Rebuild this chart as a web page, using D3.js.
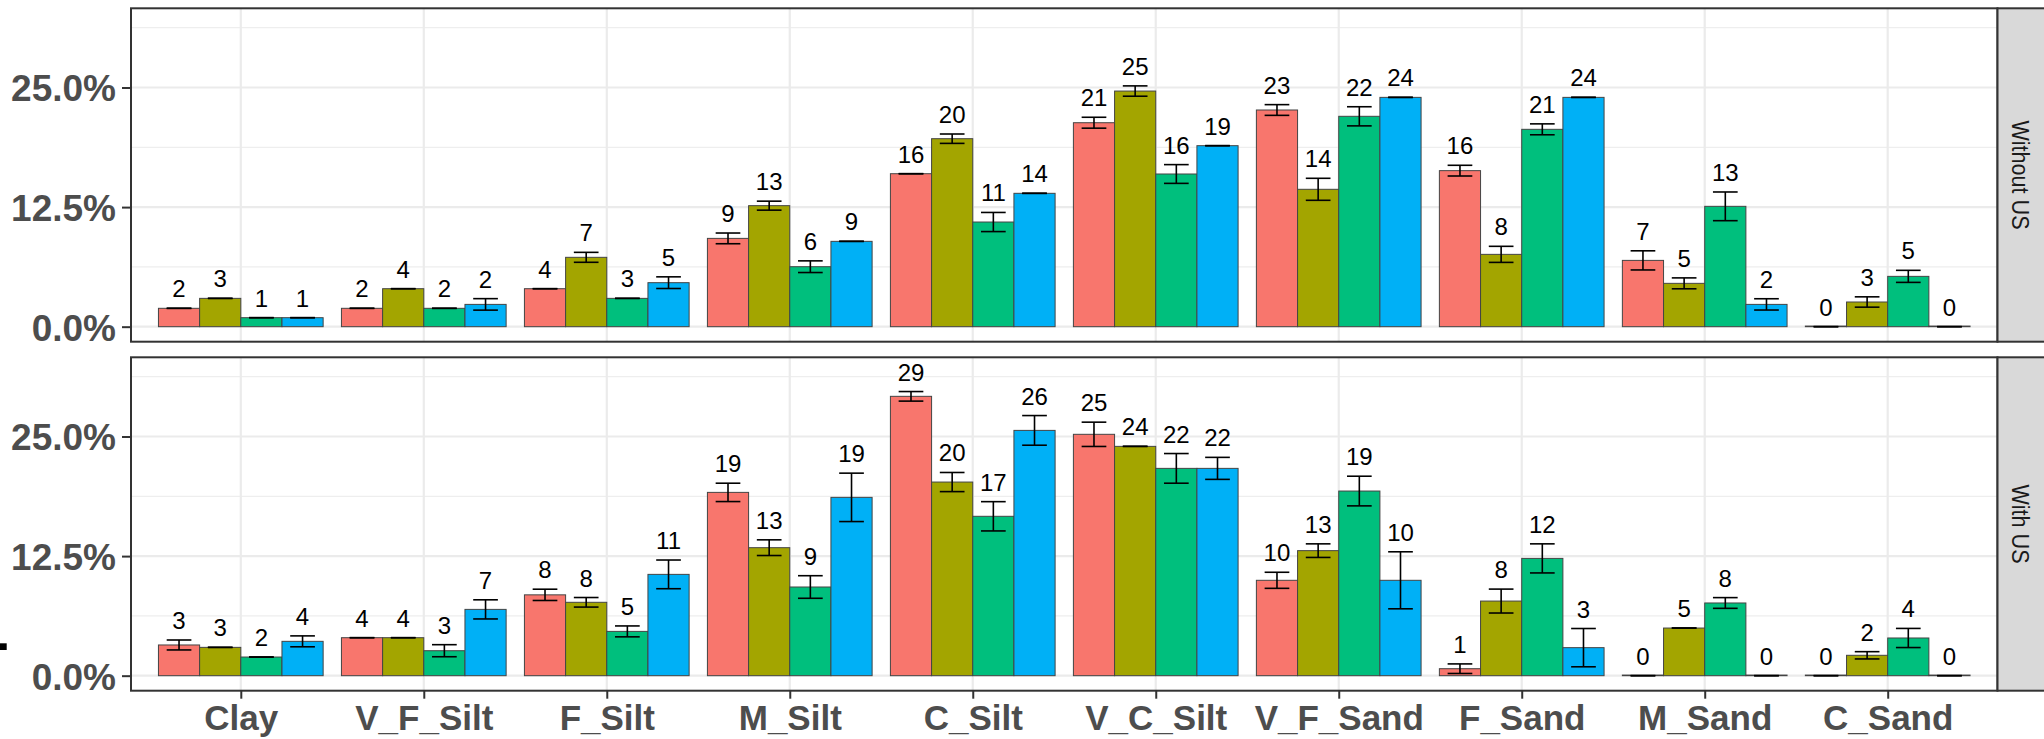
<!DOCTYPE html>
<html>
<head>
<meta charset="utf-8">
<script src="https://cdn.jsdelivr.net/npm/d3@7"></script>
<style>
  body { margin: 0; background: #fff; }
  svg { display: block; font-family: "Liberation Sans", Arial, sans-serif; }
</style>
</head>
<body>
<div id="chart"></div>
<script>
const categories = ["Clay", "V_F_Silt", "F_Silt", "M_Silt", "C_Silt", "V_C_Silt", "V_F_Sand", "F_Sand", "M_Sand", "C_Sand"];
const panels = ["Without US", "With US"];
const seriesNames = ["s1", "s2", "s3", "s4"];
const seriesColors = ["#F8766D", "#A3A500", "#00BF7D", "#00B0F6"];

// mean percentages, one array per series (order of categories)
const withoutUS = [
  [1.92, 1.92, 3.97, 9.23, 15.99, 21.32, 22.65, 16.31, 6.93, 0],
  [2.96, 3.97, 7.25, 12.65, 19.65, 24.63, 14.36, 7.56, 4.53, 2.58],
  [0.94, 1.92, 2.96, 6.27, 10.94, 15.96, 21.99, 20.63, 12.58, 5.26],
  [0.94, 2.33, 4.6, 8.92, 13.94, 18.92, 23.97, 23.97, 2.33, 0]
];
const withoutUSse = [
  [0, 0, 0, 0.56, 0, 0.57, 0.56, 0.56, 1.0, 0],
  [0, 0, 0.52, 0.47, 0.49, 0.54, 1.15, 0.84, 0.57, 0.54],
  [0, 0, 0, 0.61, 1.0, 0.98, 1.0, 0.57, 1.5, 0.63],
  [0, 0.6, 0.61, 0, 0, 0, 0, 0, 0.59, 0]
];
const withUS = [
  [3.21, 3.97, 8.45, 19.16, 29.2, 25.23, 9.97, 0.73, 0, 0],
  [2.96, 3.97, 7.67, 13.38, 20.24, 23.97, 13.07, 7.8, 4.98, 2.13],
  [1.95, 2.61, 4.63, 9.27, 16.66, 21.67, 19.3, 12.26, 7.6, 3.94],
  [3.59, 6.93, 10.59, 18.64, 25.64, 21.67, 9.97, 2.93, 0, 0]
];
const withUSse = [
  [0.52, 0, 0.59, 0.96, 0.5, 1.27, 0.84, 0.5, 0, 0],
  [0, 0, 0.5, 0.82, 1.0, 0, 0.71, 1.25, 0, 0.38],
  [0, 0.63, 0.57, 1.18, 1.53, 1.55, 1.55, 1.52, 0.56, 1.0],
  [0.57, 1.0, 1.5, 2.53, 1.55, 1.15, 2.98, 2.0, 0, 0]
];
const majorTicks = [0, 12.5, 25];
const minorTicks = [6.25, 18.75, 31.25];

const widthValue = 2044;
const heightValue = 739;

const plotLeft = 131, plotRight = 1997.5;
const stripWidth = widthValue - plotRight;
const panelBoxes = [
  { top: 8.3, bottom: 341.7 },
  { top: 357.3, bottom: 690.7 }
];
const panelData = [
  { name: panels[0], mean: withoutUS, se: withoutUSse },
  { name: panels[1], mean: withUS, se: withUSse }
];

const svg = d3.select("#chart")
  .append("svg")
  .attr("width", widthValue)
  .attr("height", heightValue);

const xScale = d3.scalePoint()
  .domain(categories)
  .range([plotLeft, plotRight])
  .padding(0.6);

const step = xScale.step();
const barW = step * 0.9 / seriesNames.length;
const capW = barW * 0.6;

const color = d3.scaleOrdinal().domain(seriesNames).range(seriesColors);

panelData.forEach(function(p, pi) {
  const box = panelBoxes[pi];
  const yScale = d3.scaleLinear()
    .domain([-1.57, 33.28])
    .range([box.bottom, box.top]);

  const g = svg.append("g");

  g.append("rect")
    .attr("x", plotLeft).attr("y", box.top)
    .attr("width", plotRight - plotLeft).attr("height", box.bottom - box.top)
    .attr("fill", "#fff");

  // grid
  g.selectAll(".minor").data(minorTicks).enter().append("line")
    .attr("x1", plotLeft).attr("x2", plotRight)
    .attr("y1", d => yScale(d)).attr("y2", d => yScale(d))
    .attr("stroke", "#EEEEEE").attr("stroke-width", 1.2);
  g.selectAll(".major").data(majorTicks).enter().append("line")
    .attr("x1", plotLeft).attr("x2", plotRight)
    .attr("y1", d => yScale(d)).attr("y2", d => yScale(d))
    .attr("stroke", "#EBEBEB").attr("stroke-width", 2.2);
  g.selectAll(".vgrid").data(categories).enter().append("line")
    .attr("x1", d => xScale(d)).attr("x2", d => xScale(d))
    .attr("y1", box.top).attr("y2", box.bottom)
    .attr("stroke", "#EBEBEB").attr("stroke-width", 2.2);

  // flatten to rows
  const rows = [];
  seriesNames.forEach(function(s, si) {
    categories.forEach(function(c, ci) {
      rows.push({ s: s, si: si, c: c, v: p.mean[si][ci], se: p.se[si][ci] });
    });
  });
  const barX = d => xScale(d.c) + (d.si - 1.5) * barW;

  g.selectAll(".bar").data(rows).enter().append("rect")
    .attr("x", d => barX(d) - barW / 2)
    .attr("y", d => Math.min(yScale(d.v), yScale(0) - 0.6))
    .attr("width", barW)
    .attr("height", d => Math.max(yScale(0) - yScale(d.v), 0.6))
    .attr("fill", d => color(d.s))
    .attr("stroke", "#444")
    .attr("stroke-width", 1);

  // error bars
  const eb = g.selectAll(".err").data(rows).enter().append("g")
    .attr("stroke", "#000").attr("stroke-width", 1.6);
  eb.append("line")
    .attr("x1", d => barX(d)).attr("x2", d => barX(d))
    .attr("y1", d => yScale(d.v - d.se)).attr("y2", d => yScale(d.v + d.se));
  eb.append("line")
    .attr("x1", d => barX(d) - capW / 2).attr("x2", d => barX(d) + capW / 2)
    .attr("y1", d => yScale(d.v + d.se)).attr("y2", d => yScale(d.v + d.se));
  eb.append("line")
    .attr("x1", d => barX(d) - capW / 2).attr("x2", d => barX(d) + capW / 2)
    .attr("y1", d => yScale(d.v - d.se)).attr("y2", d => yScale(d.v - d.se));

  // value labels
  g.selectAll(".lab").data(rows).enter().append("text")
    .attr("x", d => barX(d))
    .attr("y", d => yScale(d.v + d.se) - 11)
    .attr("text-anchor", "middle")
    .attr("font-size", 24)
    .attr("fill", "#000")
    .text(d => Math.round(d.v));

  // panel border
  g.append("rect")
    .attr("x", plotLeft).attr("y", box.top)
    .attr("width", plotRight - plotLeft).attr("height", box.bottom - box.top)
    .attr("fill", "none").attr("stroke", "#333").attr("stroke-width", 2);

  // y axis
  const yAxis = g.append("g")
    .attr("transform", `translate(${plotLeft},0)`)
    .call(d3.axisLeft(yScale).tickValues(majorTicks)
      .tickFormat(d => d.toFixed(1) + "%").tickSize(9).tickPadding(6));
  yAxis.select(".domain").remove();
  yAxis.selectAll("line").attr("stroke", "#333").attr("stroke-width", 2);
  yAxis.selectAll("text")
    .attr("font-size", 37).attr("font-weight", "bold").attr("fill", "#4D4D4D")
    .attr("font-family", "Liberation Sans, Arial, sans-serif")
    .attr("dy", "0.36em");

  // facet strip
  g.append("rect")
    .attr("x", plotRight).attr("y", box.top)
    .attr("width", stripWidth + 2).attr("height", box.bottom - box.top)
    .attr("fill", "#D9D9D9").attr("stroke", "#333").attr("stroke-width", 2);
  const cy = (box.top + box.bottom) / 2;
  g.append("text")
    .attr("transform", `translate(${plotRight + stripWidth / 2},${cy}) rotate(90) scale(0.9,1)`)
    .attr("text-anchor", "middle")
    .attr("dy", "0.35em")
    .attr("font-size", 24)
    .attr("fill", "#1A1A1A")
    .text(p.name);
});

// x axis under the bottom panel
const xAxis = svg.append("g")
  .attr("transform", `translate(0,${panelBoxes[1].bottom})`)
  .call(d3.axisBottom(xScale).tickSize(8).tickPadding(6));
xAxis.select(".domain").remove();
xAxis.selectAll("line").attr("stroke", "#333").attr("stroke-width", 2);
xAxis.selectAll("text")
  .attr("font-size", 35).attr("font-weight", "bold").attr("fill", "#4D4D4D")
  .attr("font-family", "Liberation Sans, Arial, sans-serif")
  .attr("dy", "0.71em");

// leftover mark at the left edge
svg.append("rect")
  .attr("x", 0).attr("y", 643.3).attr("width", 6.7).attr("height", 6.7)
  .attr("fill", "#000");
</script>
</body>
</html>
